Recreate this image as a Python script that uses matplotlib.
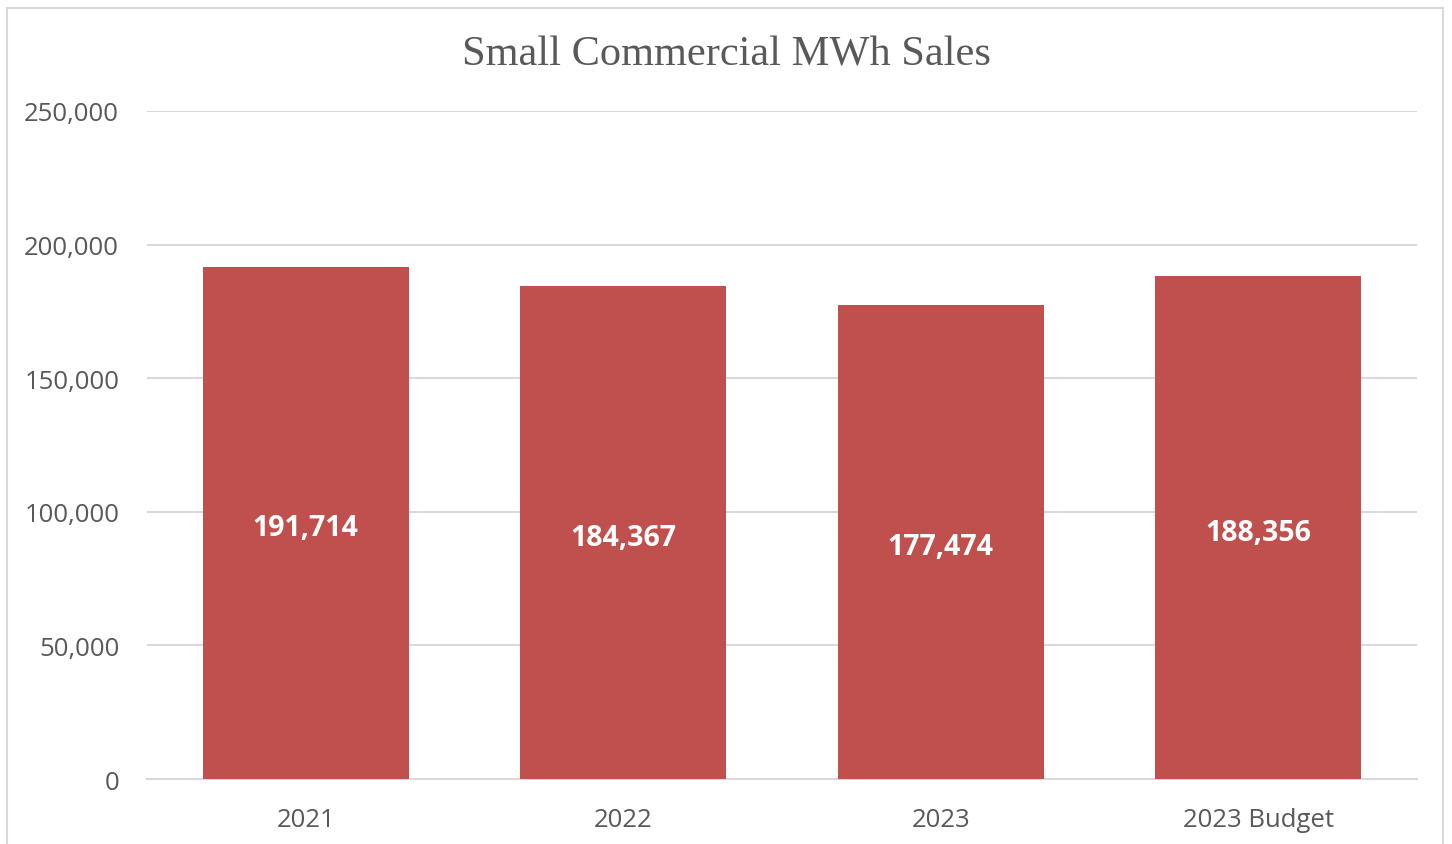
import matplotlib
matplotlib.use("Agg")
import matplotlib.pyplot as plt
from matplotlib.patches import Rectangle
from matplotlib.ticker import FuncFormatter

categories = ["2021", "2022", "2023", "2023 Budget"]
values = [191714, 184367, 177474, 188356]
yticks = [0, 50000, 100000, 150000, 200000, 250000]

W, H = 1452, 845
fig = plt.figure(figsize=(W / 100, H / 100), dpi=100)
fig.patch.set_facecolor("white")

# outer chart border
fig.patches.append(Rectangle((6.5 / W, -0.05), (1443 - 6.5) / W, (H - 8.5) / H + 0.05,
                             transform=fig.transFigure, fill=False,
                             edgecolor="#D9D9D9", linewidth=1.5))

ax = fig.add_axes([147 / W, 1 - 780 / H, (1417 - 147) / W, (780 - 112) / H])
x = range(len(categories))
bars = ax.bar(x, values, width=0.65, color="#C0504D", zorder=3)
ax.set_xlim(-0.5, len(categories) - 0.5)
ax.set_ylim(0, 250000)
ax.set_yticks(yticks)
ax.yaxis.set_major_formatter(FuncFormatter(lambda v, p: f"{int(v):,}"))
ax.set_xticks(list(x))
ax.set_xticklabels(categories)
ax.grid(axis="y", color="#D9D9D9", linewidth=1.5, zorder=0)
for s in ["top", "right", "left"]:
    ax.spines[s].set_visible(False)
ax.spines["bottom"].set_color("#D9D9D9")
ax.spines["bottom"].set_linewidth(1.5)
ax.tick_params(axis="both", length=0, labelsize=18.5, colors="#595959")
ax.tick_params(axis="y", pad=20)
ax.tick_params(axis="x", pad=20)
for lab in ax.get_xticklabels() + ax.get_yticklabels():
    lab.set_fontfamily("Open Sans")

for i, v in enumerate(values):
    ax.annotate(f"{v:,}", xy=(i, v / 2), xytext=(0, -3.5), textcoords="offset points",
                ha="center", va="center", color="white",
                fontsize=20.5, fontweight="bold", family="Open Sans", zorder=4)

fig.text(726 / W, 1 - 55.5 / H, "Small Commercial MWh Sales", ha="center", va="center",
         fontsize=30.5, color="#595959", family="Liberation Serif")

fig.savefig("out.png", dpi=100)
